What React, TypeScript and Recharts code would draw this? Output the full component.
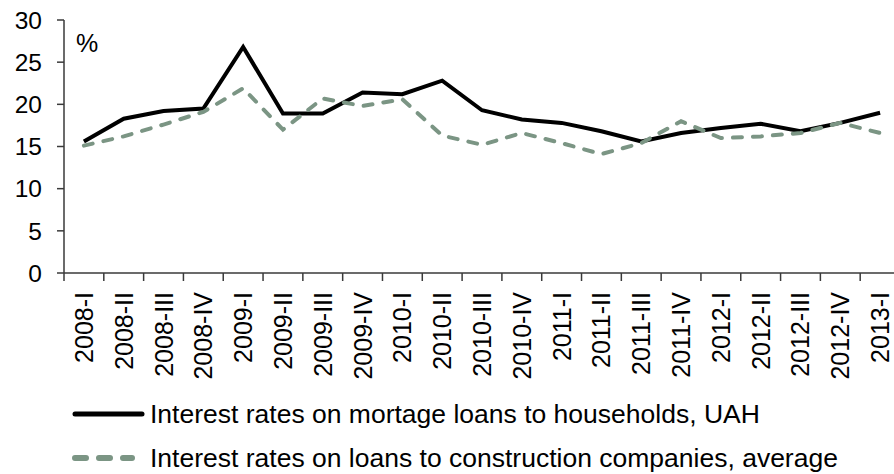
import { Line, LineChart, XAxis, YAxis } from "recharts";

const FONT = "'Liberation Sans', Arial, sans-serif";
const MORTGAGE_COLOR = "#000000";
const CONSTRUCTION_COLOR = "#7b9584";
const AXIS_COLOR = "#3a3a3a";

const quarters = [
  "2008-I", "2008-II", "2008-III", "2008-IV",
  "2009-I", "2009-II", "2009-III", "2009-IV",
  "2010-I", "2010-II", "2010-III", "2010-IV",
  "2011-I", "2011-II", "2011-III", "2011-IV",
  "2012-I", "2012-II", "2012-III", "2012-IV",
  "2013-I",
];

const mortgageRates = [
  15.6, 18.3, 19.2, 19.5, 26.8, 18.9, 18.9, 21.4, 21.2, 22.8, 19.3,
  18.2, 17.8, 16.8, 15.6, 16.6, 17.2, 17.7, 16.8, 17.8, 19.0,
];

const constructionRates = [
  15.1, 16.2, 17.6, 19.1, 21.9, 17.0, 20.7, 19.8, 20.6, 16.3, 15.2,
  16.6, 15.4, 14.1, 15.4, 18.0, 16.0, 16.2, 16.6, 17.8, 16.6,
];

const yTicks = [0, 5, 10, 15, 20, 25, 30];

const MORTGAGE_NAME = "Interest rates on mortage loans to households, UAH";
const CONSTRUCTION_NAME = "Interest rates on loans to construction companies, average";

const CHART_W = 900;
const Y_AXIS_W = 64;
const BAND = (CHART_W - Y_AXIS_W) / quarters.length;

const data = quarters.map((q, i) => ({
  quarter: q,
  mortgage: mortgageRates[i],
  construction: constructionRates[i],
}));

function QuarterTick(props: any) {
  const { x, y, payload } = props;
  const left = x - BAND / 2;
  return (
    <g>
      <line x1={left} y1={y} x2={left} y2={y + 8} stroke={AXIS_COLOR} strokeWidth={1.5} />
      <text
        transform={`translate(${x},${y + 19}) rotate(-90)`}
        textAnchor="end"
        dy="0.36em"
        fontSize={25}
        fontFamily={FONT}
        fill="#000"
      >
        {payload.value}
      </text>
    </g>
  );
}

function ChartLegend() {
  const row = {
    display: "flex",
    alignItems: "center",
    whiteSpace: "nowrap" as const,
    height: 30,
    lineHeight: "30px",
  };
  return (
    <div
      style={{
        position: "absolute",
        left: 72,
        top: 399,
        fontFamily: FONT,
        fontSize: 26.5,
        color: "#000",
      }}
    >
      <div style={row}>
        <svg width={78} height={12}>
          <line x1={3} y1={6} x2={70} y2={6} stroke={MORTGAGE_COLOR} strokeWidth={5} strokeLinecap="round" />
        </svg>
        <span>{MORTGAGE_NAME}</span>
      </div>
      <div style={{ ...row, marginTop: 14 }}>
        <svg width={78} height={12}>
          <line
            x1={3}
            y1={6}
            x2={60}
            y2={6}
            stroke={CONSTRUCTION_COLOR}
            strokeWidth={6}
            strokeLinecap="round"
            strokeDasharray="11 13"
          />
        </svg>
        <span>{CONSTRUCTION_NAME}</span>
      </div>
    </div>
  );
}

export default function App() {
  return (
    <div style={{ position: "relative", width: 894, height: 474, overflow: "hidden", background: "#fff" }}>
      <style>{`body{margin:0;}`}</style>
      <LineChart
        width={CHART_W}
        height={385}
        data={data}
        margin={{ top: 20, right: 0, bottom: 0, left: 0 }}
      >
        <XAxis
          dataKey="quarter"
          scale="band"
          interval={0}
          tickLine={false}
          tickSize={0}
          tickMargin={0}
          height={112}
          axisLine={{ stroke: AXIS_COLOR, strokeWidth: 1.5 }}
          tick={<QuarterTick />}
        />
        <YAxis
          domain={[0, 30]}
          ticks={yTicks}
          width={Y_AXIS_W}
          tickSize={7}
          tickMargin={15}
          axisLine={{ stroke: AXIS_COLOR, strokeWidth: 1.5 }}
          tickLine={{ stroke: AXIS_COLOR, strokeWidth: 1.5 }}
          tick={{ fontSize: 24.5, fontFamily: FONT, fill: "#000" }}
          label={{
            value: "%",
            position: "insideTopLeft",
            offset: 0,
            dx: 76,
            dy: 14,
            fontSize: 25,
            fontFamily: FONT,
            fill: "#000",
          }}
        />
        <Line
          type="linear"
          dataKey="mortgage"
          name={MORTGAGE_NAME}
          stroke={MORTGAGE_COLOR}
          strokeWidth={4}
          dot={false}
          isAnimationActive={false}
        />
        <Line
          type="linear"
          dataKey="construction"
          name={CONSTRUCTION_NAME}
          stroke={CONSTRUCTION_COLOR}
          strokeWidth={4}
          strokeDasharray="9 11"
          strokeLinecap="round"
          dot={false}
          isAnimationActive={false}
        />
      </LineChart>
      <ChartLegend />
    </div>
  );
}
